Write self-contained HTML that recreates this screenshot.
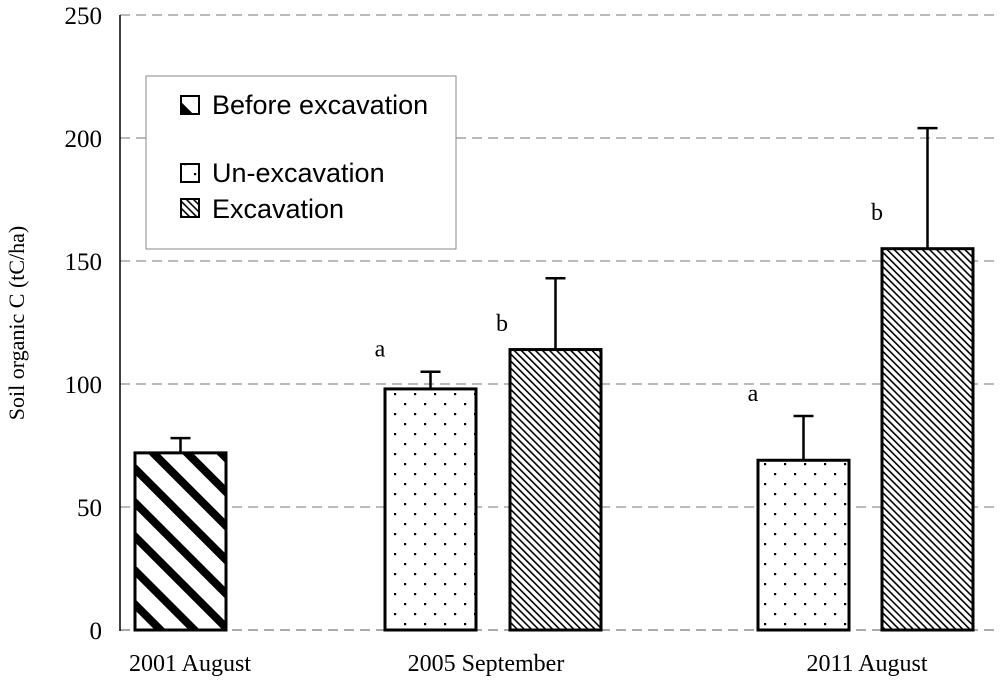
<!DOCTYPE html>
<html><head><meta charset="utf-8"><style>
body{margin:0;background:#fff}
svg{display:block;font-family:"Liberation Serif",serif}
</style></head><body>
<svg id="chart" width="1000" height="684" viewBox="0 0 1000 684">
<defs>
<pattern id="pThick" patternUnits="userSpaceOnUse" width="24" height="24" patternTransform="rotate(-45)">
<rect width="24" height="24" fill="#fff"/><rect x="0" y="0" width="8" height="24" fill="#000"/>
</pattern>
<pattern id="pFine" patternUnits="userSpaceOnUse" width="5" height="5" patternTransform="rotate(-45)">
<rect width="5" height="5" fill="#fff"/><rect x="0" y="0" width="1.6" height="5" fill="#000"/>
</pattern>
<pattern id="pDots" patternUnits="userSpaceOnUse" width="20" height="20">
<rect width="20" height="20" fill="#fff"/><rect x="4" y="3" width="2.2" height="2.2" fill="#000"/><rect x="14" y="13" width="2.2" height="2.2" fill="#000"/>
</pattern>
</defs>
<g id="grid"></g>
<g id="bars"></g>
<line x1="120" y1="15" x2="120" y2="631" stroke="#000" stroke-width="1.5"/>
<text x="0" y="0" transform="translate(24,323) rotate(-90)" text-anchor="middle" font-size="22">Soil organic C (tC/ha)</text>
<g>
<rect x="146" y="76" width="310" height="173" fill="#fff" stroke="#888" stroke-width="1"/>
<rect x="181" y="96" width="18" height="18" fill="url(#pThick)" stroke="#000" stroke-width="2"/>
<text x="212" y="114" font-size="27" font-family="Liberation Sans, sans-serif">Before excavation</text>
<rect x="181" y="164" width="18" height="18" fill="url(#pDots)" stroke="#000" stroke-width="2"/>
<text x="212" y="182" font-size="27" font-family="Liberation Sans, sans-serif">Un-excavation</text>
<rect x="181" y="199" width="18" height="18" fill="url(#pFine)" stroke="#000" stroke-width="2"/>
<text x="212" y="218" font-size="27" font-family="Liberation Sans, sans-serif">Excavation</text>
</g>
</svg>
<script>
const ticks=[0,50,100,150,200,250];
const groupLabels=["2001 August","2005 September","2011 August"];
const barValues=[72,98,114,69,155];
const barErrors=[78,105,143,87,204];
const barLetters=["","a","b","a","b"];
const barKinds=["before","unexcavation","excavation","unexcavation","excavation"];
const y=v=>630-v*2.46;
const barX=[135,385,510,758,882];
const barW=91;
const groupX=[190,486,867];
const letterOffset=[0,-5,-8,-5,-5];
const fills={before:"url(#pThick)",unexcavation:"url(#pDots)",excavation:"url(#pFine)"};
const NS="http://www.w3.org/2000/svg";
function mk(t,a,p){const e=document.createElementNS(NS,t);for(const k in a)e.setAttribute(k,a[k]);p.appendChild(e);return e;}
const grid=document.getElementById('grid'),bars=document.getElementById('bars'),svg=document.getElementById('chart');
ticks.forEach(t=>{
 const l=mk('line',{x1:120,x2:1000,y1:y(t),y2:y(t),stroke:t===0?'#555':'#777','stroke-dasharray':'10,6','stroke-width':1},grid);
 
 
 const tx=mk('text',{x:102,y:y(t)+9,'text-anchor':'end','font-size':25},grid);
 tx.textContent=t;
 
 
});
groupLabels.forEach((g,i)=>{
 const tx=mk('text',{x:groupX[i],y:671,'text-anchor':'middle','font-size':24},svg);
 tx.textContent=g;
 
 
});
barValues.forEach((v,i)=>{
 const x=barX[i],cx=x+barW/2;
 const el=mk('line',{x1:cx,x2:cx,y1:y(barErrors[i]),y2:y(v),stroke:'#000','stroke-width':2.5},bars);
 
 
 const cap=mk('line',{x1:cx-10,x2:cx+10,y1:y(barErrors[i]),y2:y(barErrors[i]),stroke:'#000','stroke-width':2.5},bars);
 
 
 const r=mk('rect',{x:x,y:y(v),width:barW,height:y(0)-y(v),fill:fills[barKinds[i]],stroke:'#000','stroke-width':3},bars);
 
 
 if(barLetters[i]){
  const tx=mk('text',{x:x+letterOffset[i],y:(i===2?y(barErrors[i])+53:i===4?y(barErrors[i])+92:y(barErrors[i])-15),'text-anchor':'middle','font-size':24},bars);
  tx.textContent=barLetters[i];
  
  
 }
});
</script>
</body></html>
